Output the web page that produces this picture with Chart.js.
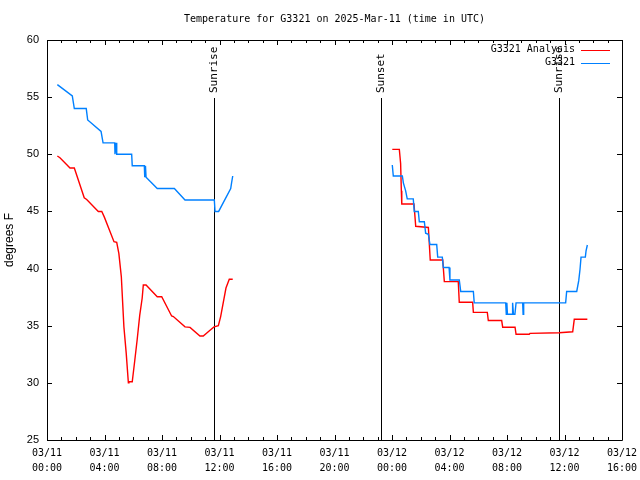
<!DOCTYPE html>
<html>
<head>
<meta charset="utf-8">
<script src="https://cdn.jsdelivr.net/npm/chart.js@4.4.0/dist/chart.umd.min.js"></script>
<style>
    html, body { margin: 0; padding: 0; background: #ffffff; }
</style>
</head>
<body>
<canvas id="tempChart" width="640" height="480"></canvas>
<script>
// hours since 03/11 00:00 UTC, temps in degrees F
const analysisHours1 = [0.72, 0.90, 1.60, 1.90, 2.59, 2.76, 3.57, 3.81, 3.99, 4.66, 4.85, 5.00, 5.17, 5.35, 5.51, 5.66, 5.70, 5.93,
    6.11, 6.27, 6.45, 6.62, 6.70, 6.89, 7.67, 7.98, 8.67, 8.79, 9.60, 9.95, 10.64, 10.87, 11.34, 11.62, 11.92, 12.08, 12.45, 12.68, 12.92];
const analysisTemps1 = [49.85, 49.7, 48.8, 48.8, 46.2, 46.05, 45.0, 45.0, 44.5, 42.35, 42.3, 41.3, 39.3, 34.9, 32.6, 30.0, 30.1, 30.1,
    32.0, 33.75, 35.9, 37.4, 38.56, 38.56, 37.54, 37.54, 35.85, 35.8, 34.9, 34.85, 34.1, 34.1, 34.6, 34.9, 35.0, 35.8, 38.3, 39.06, 39.06];
const analysisHours2 = [24.02, 24.51, 24.60, 24.65, 24.68, 25.53, 25.65, 26.53, 26.66, 27.53, 27.64, 28.61, 28.68, 29.61, 29.66,
    30.63, 30.70, 31.63, 31.70, 32.56, 32.63, 33.55, 33.60, 35.62, 36.57, 36.68, 37.59];
const analysisTemps2 = [50.43, 50.43, 49.2, 46.8, 45.65, 45.65, 43.7, 43.6, 40.75, 40.75, 38.86, 38.86, 37.05, 37.05, 36.17,
    36.17, 35.45, 35.45, 34.87, 34.87, 34.25, 34.25, 34.33, 34.38, 34.47, 35.56, 35.56];

const obsHours1 = [0.72, 1.76, 1.90, 2.73, 2.83, 3.76, 3.90, 4.71, 4.73, 4.80, 4.85, 5.89, 5.93, 6.77, 6.80, 6.85, 6.89,
    7.67, 8.86, 9.60, 11.64, 11.69, 11.94, 12.78, 12.84, 12.92];
const obsTemps1 = [56.1, 55.1, 54, 54, 53, 52, 51, 51, 50, 51, 50, 50, 49, 49, 48, 49, 48,
    47, 47, 46, 46, 45, 45, 47, 47.5, 48.1];
const obsHours2 = [24.02, 24.09, 24.72, 24.79, 24.95, 25.06, 25.48, 25.55, 25.83, 25.90, 26.25, 26.34, 26.53, 26.64, 27.11, 27.18,
    27.50, 27.57, 27.97, 28.03, 28.68, 28.78, 29.66, 29.72, 31.91, 31.95, 31.99, 32.03, 32.35, 32.39, 32.45, 32.55, 32.63,
    33.09, 33.12, 33.16, 36.08, 36.15, 36.85, 36.99, 37.08, 37.15, 37.45, 37.50, 37.59];
const obsTemps2 = [49.06, 48.1, 48.1, 47.5, 46.8, 46.1, 46.1, 45.0, 45.0, 44.1, 44.1, 43.1, 43.0, 42.1, 42.1, 41.0,
    41.0, 40.1, 40.1, 39.0, 39.0, 38.0, 38.0, 37.0, 37, 36, 37, 36, 36, 37, 36, 36, 37,
    37, 36, 37, 37, 38, 38, 38.94, 39.94, 41.0, 41.0, 41.56, 42.06];

const eventHours = [11.62, 23.23, 35.62];
const eventLabels = ['Sunrise', 'Sunset', 'Sunrise'];

const xTickDates = ['03/11', '03/11', '03/11', '03/11', '03/11', '03/11', '03/12', '03/12', '03/12', '03/12', '03/12'];
const xTickTimes = ['00:00', '04:00', '08:00', '12:00', '16:00', '20:00', '00:00', '04:00', '08:00', '12:00', '16:00'];

const seriesNames = ['G3321 Analysis', 'G3321'];
const seriesColors = ['#ff0000', '#0080ff'];

function toPoints(hoursA, tempsA, hoursB, tempsB) {
    const pts = hoursA.map((h, i) => ({ x: h, y: tempsA[i] }));
    pts.push({ x: (hoursA[hoursA.length - 1] + hoursB[0]) / 2, y: null });
    return pts.concat(hoursB.map((h, i) => ({ x: h, y: tempsB[i] })));
}

const MONO = "'DejaVu Sans Mono', monospace";
const SANS = "'Liberation Sans', Arial, sans-serif";

// gnuplot-like border, inward ticks, sun events, title and key
const gnuplotDecor = {
    id: 'gnuplotDecor',
    beforeDatasetsDraw(chart) {
        const { ctx, chartArea: a, scales: { x, y } } = chart;
        ctx.save();
        ctx.strokeStyle = '#000000';
        ctx.lineWidth = 1;
        ctx.beginPath();
        ctx.rect(Math.round(a.left) + 0.5, Math.round(a.top) + 0.5, Math.round(a.right - a.left), Math.round(a.bottom - a.top));
        // x ticks every hour, major every 4 hours
        for (let h = 0; h <= 40; h++) {
            const px = Math.round(x.getPixelForValue(h)) + 0.5;
            const len = h % 4 === 0 ? 5 : 3;
            ctx.moveTo(px, a.bottom); ctx.lineTo(px, a.bottom - len);
            ctx.moveTo(px, a.top); ctx.lineTo(px, a.top + len);
        }
        for (let t = 25; t <= 60; t += 5) {
            const py = Math.round(y.getPixelForValue(t)) + 0.5;
            ctx.moveTo(a.left, py); ctx.lineTo(a.left + 5, py);
            ctx.moveTo(a.right, py); ctx.lineTo(a.right - 5, py);
        }
        ctx.stroke();

        // sunrise / sunset markers
        ctx.font = '11px ' + MONO;
        ctx.fillStyle = '#000000';
        eventHours.forEach((h, i) => {
            const px = Math.round(x.getPixelForValue(h)) + 0.5;
            ctx.beginPath();
            ctx.moveTo(px, 98); ctx.lineTo(px, a.bottom);
            ctx.stroke();
            ctx.save();
            ctx.translate(px, 93);
            ctx.rotate(-Math.PI / 2);
            ctx.textAlign = 'left';
            ctx.textBaseline = 'middle';
            ctx.fillText(eventLabels[i], 0, 0);
            ctx.restore();
        });
        ctx.restore();
    },
    afterDraw(chart) {
        const { ctx, chartArea: a } = chart;
        ctx.save();
        ctx.fillStyle = '#000000';
        ctx.font = '10px ' + MONO;
        ctx.textAlign = 'center';
        ctx.textBaseline = 'middle';
        ctx.fillText('Temperature for G3321 on 2025-Mar-11 (time in UTC)', (a.left + a.right) / 2, 19);

        // y axis title
        ctx.font = '12px ' + SANS;
        ctx.save();
        ctx.translate(10, (a.top + a.bottom) / 2);
        ctx.rotate(-Math.PI / 2);
        ctx.fillText('degrees F', 0, 0);
        ctx.restore();

        // key
        ctx.font = '10px ' + MONO;
        ctx.textAlign = 'right';
        seriesNames.forEach((name, i) => {
            const ky = 49.5 + i * 13;
            ctx.fillStyle = '#000000';
            ctx.fillText(name, 575, ky);
            ctx.strokeStyle = seriesColors[i];
            ctx.lineWidth = 1;
            ctx.beginPath();
            ctx.moveTo(581, Math.round(ky) + 0.5);
            ctx.lineTo(610, Math.round(ky) + 0.5);
            ctx.stroke();
        });
        ctx.restore();
    }
};

new Chart(document.getElementById('tempChart').getContext('2d'), {
    type: 'scatter',
    data: {
        datasets: [
            {
                label: seriesNames[0],
                data: toPoints(analysisHours1, analysisTemps1, analysisHours2, analysisTemps2),
                showLine: true,
                spanGaps: false,
                borderColor: seriesColors[0],
                borderWidth: 1.4,
                pointRadius: 0,
                order: 1
            },
            {
                label: seriesNames[1],
                data: toPoints(obsHours1, obsTemps1, obsHours2, obsTemps2),
                showLine: true,
                spanGaps: false,
                borderColor: seriesColors[1],
                borderWidth: 1.4,
                pointRadius: 0,
                order: 0
            }
        ]
    },
    options: {
        responsive: false,
        animation: false,
        layout: { padding: { top: 40, right: 18, left: 0, bottom: 0 } },
        plugins: {
            legend: { display: false },
            tooltip: { enabled: false },
            title: { display: false }
        },
        scales: {
            x: {
                type: 'linear',
                min: 0,
                max: 40,
                border: { display: false },
                grid: { display: false, drawTicks: false },
                afterFit: function (scale) {
                    scale.height = 40;
                    scale.paddingLeft = 0;
                    scale.paddingRight = 0;
                },
                afterBuildTicks: function (scale) {
                    scale.ticks = xTickTimes.map((t, i) => ({ value: i * 4 }));
                },
                ticks: {
                    autoSkip: false,
                    maxRotation: 0,
                    padding: 6,
                    color: '#000000',
                    font: { family: MONO, size: 10, lineHeight: 1.5 },
                    callback: function (value, index) { return [xTickDates[index], xTickTimes[index]]; }
                }
            },
            y: {
                min: 25,
                max: 60,
                border: { display: false },
                grid: { display: false, drawTicks: false },
                afterFit: function (scale) {
                    scale.width = 47;
                    scale.paddingTop = 0;
                    scale.paddingBottom = 0;
                },
                ticks: {
                    stepSize: 5,
                    padding: 8,
                    color: '#000000',
                    font: { family: SANS, size: 11 }
                }
            }
        }
    },
    plugins: [gnuplotDecor]
});
</script>
</body>
</html>
